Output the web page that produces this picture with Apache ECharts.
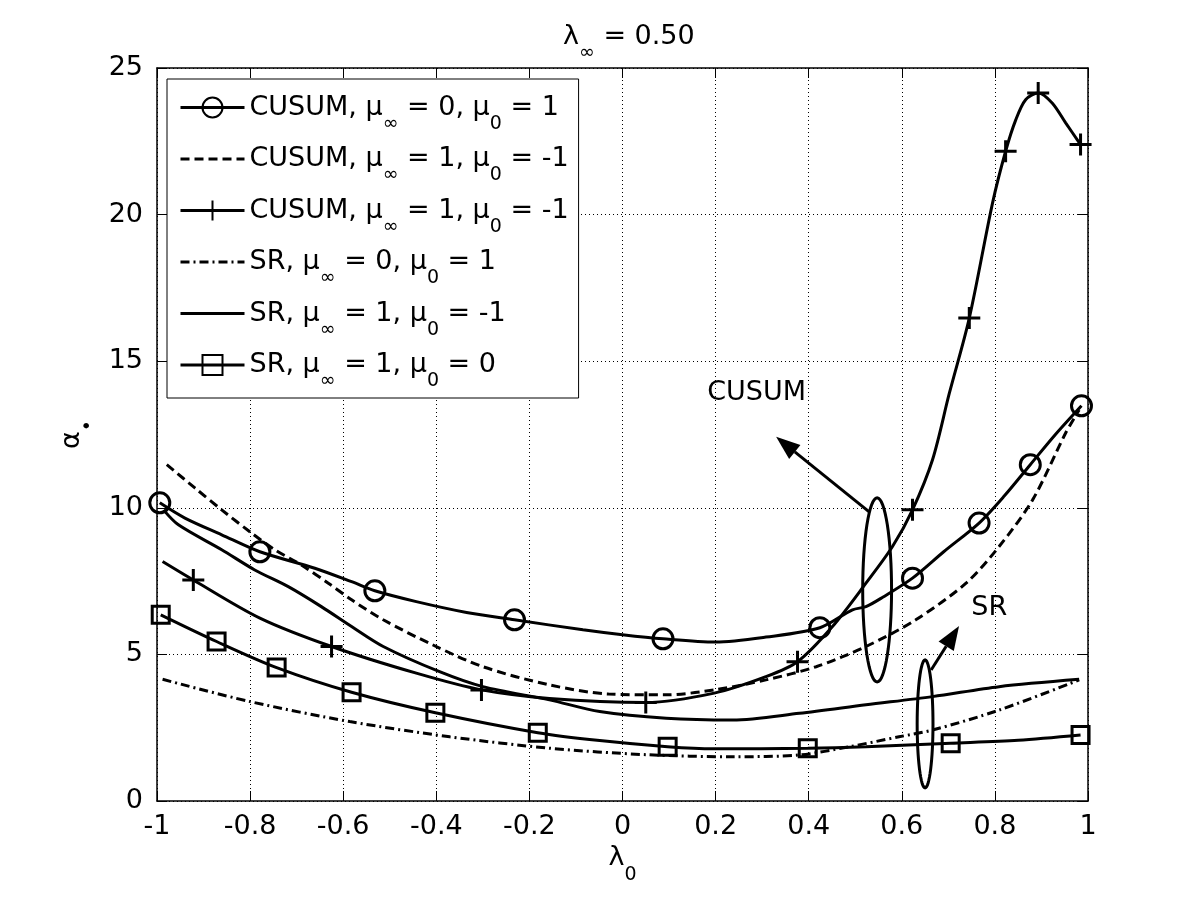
<!DOCTYPE html>
<html>
<head>
<meta charset="utf-8">
<script src="https://cdn.jsdelivr.net/npm/echarts@6/dist/echarts.min.js"></script>
<style>
html, body { margin: 0; padding: 0; background: #fff; }
#main { width: 1200px; height: 900px; }
</style>
</head>
<body>
<div id="main"></div>
<script>
// axis ranges
const xMin = -1, xMax = 1, xStep = 0.2;
const yMin = 0, yMax = 25, yStep = 5;

// CUSUM, mu_inf = 0, mu_0 = 1 (circles)
const cusum01X = [-0.994, -0.94, -0.861, -0.779, -0.661, -0.582, -0.532, -0.443, -0.335, -0.232, -0.085, 0.0, 0.087, 0.2, 0.308, 0.424, 0.494, 0.523, 0.559, 0.623, 0.69, 0.766, 0.82, 0.876, 0.93, 0.986];
const cusum01Y = [10.17, 9.65, 9.08, 8.5, 7.94, 7.48, 7.17, 6.8, 6.43, 6.18, 5.84, 5.67, 5.53, 5.42, 5.59, 5.91, 6.52, 6.63, 6.95, 7.6, 8.5, 9.48, 10.4, 11.47, 12.5, 13.48];
const cusum01Marks = [0, 3, 6, 9, 12, 15, 19, 21, 23, 25];

// CUSUM, mu_inf = 1, mu_0 = -1 (dashed)
const cusum10dX = [-0.979, -0.918, -0.861, -0.797, -0.747, -0.69, -0.632, -0.582, -0.514, -0.407, -0.30, -0.157, -0.03, 0.094, 0.201, 0.308, 0.416, 0.523, 0.630, 0.738, 0.809, 0.881, 0.952, 0.981];
const cusum10dY = [11.47, 10.67, 9.93, 9.14, 8.57, 8.05, 7.43, 6.86, 6.18, 5.32, 4.58, 3.96, 3.65, 3.62, 3.8, 4.13, 4.58, 5.27, 6.18, 7.43, 8.68, 10.27, 12.55, 13.34];

// CUSUM, mu_inf = 1, mu_0 = -1 (plus)
const cusum10pX = [-0.988, -0.922, -0.779, -0.625, -0.443, -0.303, -0.157, 0.05, 0.197, 0.308, 0.376, 0.451, 0.523, 0.58, 0.623, 0.666, 0.702, 0.745, 0.795, 0.823, 0.845, 0.866, 0.893, 0.923, 0.952, 0.984];
const cusum10pY = [8.17, 7.54, 6.24, 5.27, 4.36, 3.79, 3.5, 3.36, 3.68, 4.24, 4.75, 5.95, 7.43, 8.68, 9.93, 11.64, 13.9, 16.47, 20.4, 22.16, 23.24, 23.92, 24.15, 23.81, 23.13, 22.39];
const cusum10pMarks = [1, 3, 5, 7, 10, 14, 17, 19, 22, 25];

// SR, mu_inf = 0, mu_0 = 1 (dash-dot)
const sr01X = [-0.988, -0.8, -0.586, -0.371, -0.157, 0.05, 0.237, 0.38, 0.487, 0.594, 0.666, 0.809, 0.981];
const sr01Y = [4.15, 3.39, 2.71, 2.19, 1.80, 1.58, 1.51, 1.57, 1.85, 2.19, 2.42, 3.1, 4.13];

// SR, mu_inf = 1, mu_0 = -1 (solid)
const sr1m1X = [-0.986, -0.954, -0.861, -0.79, -0.718, -0.647, -0.582, -0.514, -0.393, -0.30, -0.157, -0.049, 0.094, 0.237, 0.38, 0.523, 0.666, 0.809, 0.981];
const sr1m1Y = [9.93, 9.42, 8.57, 7.88, 7.31, 6.63, 5.95, 5.27, 4.41, 3.9, 3.45, 3.05, 2.82, 2.76, 2.99, 3.28, 3.56, 3.9, 4.15];

// SR, mu_inf = 1, mu_0 = 0 (squares)
const sr10X = [-0.992, -0.872, -0.743, -0.582, -0.402, -0.182, -0.049, 0.097, 0.197, 0.398, 0.523, 0.705, 0.85, 0.984];
const sr10Y = [6.35, 5.44, 4.55, 3.71, 3.01, 2.33, 2.06, 1.85, 1.78, 1.80, 1.85, 1.97, 2.07, 2.25];
const sr10Marks = [0, 1, 2, 3, 4, 5, 7, 9, 11, 13];

const seriesNames = ['c01', 'c10d', 'c10p', 's01', 's1m1', 's10'];
const legendLabels = [
  '{n|CUSUM, μ}{s|∞}{n| = 0, μ}{s|0}{n| = 1}',
  '{n|CUSUM, μ}{s|∞}{n| = 1, μ}{s|0}{n| = -1}',
  '{n|CUSUM, μ}{s|∞}{n| = 1, μ}{s|0}{n| = -1}',
  '{n|SR, μ}{s|∞}{n| = 0, μ}{s|0}{n| = 1}',
  '{n|SR, μ}{s|∞}{n| = 1, μ}{s|0}{n| = -1}',
  '{n|SR, μ}{s|∞}{n| = 1, μ}{s|0}{n| = 0}'
];

const FONT = 'DejaVu Sans';
// main text centred in a 52px line, subscript pushed to the bottom of it
const richSub = {
  n: { fontFamily: FONT, fontSize: 27, color: '#000', lineHeight: 52, verticalAlign: 'middle' },
  s: { fontFamily: FONT, fontSize: 19, color: '#000', lineHeight: 18, verticalAlign: 'bottom' }
};

const plusPath = 'path://M0,-10L0,10M-10,0L10,0';

function toData(xs, ys, marks) {
  return xs.map((x, i) => marks.indexOf(i) >= 0
    ? { value: [x, ys[i]] }
    : { value: [x, ys[i]], symbol: 'none' });
}

function mkSeries(name, xs, ys, marks, symbol, size, dash) {
  return {
    name: name,
    type: 'line',
    data: toData(xs, ys, marks || []),
    symbol: symbol || 'none',
    symbolSize: size || 1,
    symbolKeepAspect: true,
    smooth: 0.3,
    lineStyle: { color: '#000', width: 3, type: dash || 'solid' },
    itemStyle: { color: 'transparent', borderColor: symbol ? '#000' : 'transparent', borderWidth: symbol ? 3 : 0 },
    emphasis: { disabled: true },
    animation: false,
    z: 3
  };
}

const chart = echarts.init(document.getElementById('main'));

const axisCommon = {
  type: 'value',
  axisLine: { show: true, onZero: false, lineStyle: { color: '#000', width: 1.5 } },
  axisTick: { show: true, inside: true, length: 10, lineStyle: { color: '#000', width: 1 } }
};

const option = {
  backgroundColor: '#fff',
  animation: false,
  title: {
    text: '{n|λ}{s|∞}{n| = 0.50}',
    left: 563,
    top: 11,
    padding: 0,
    textStyle: { fontFamily: FONT, fontSize: 27, fontWeight: 'normal', color: '#000', rich: richSub }
  },
  grid: { left: 157, top: 68, width: 931, height: 733 },
  xAxis: [
    Object.assign({}, axisCommon, {
      min: xMin, max: xMax, interval: xStep, position: 'bottom',
      axisLabel: { fontFamily: FONT, fontSize: 27, color: '#000', margin: 12 },
      splitLine: { show: true, lineStyle: { color: '#000', type: [1, 3], width: 1 } },
      name: '{n|λ}{s|0}', nameLocation: 'middle', nameGap: 31,
      nameTextStyle: { fontFamily: FONT, fontSize: 27, color: '#000', rich: richSub }
    }),
    Object.assign({}, axisCommon, {
      min: xMin, max: xMax, interval: xStep, position: 'top',
      axisLabel: { show: false }, splitLine: { show: false }
    })
  ],
  yAxis: [
    Object.assign({}, axisCommon, {
      min: yMin, max: yMax, interval: yStep, position: 'left',
      axisLabel: { fontFamily: FONT, fontSize: 27, color: '#000', margin: 14 },
      splitLine: { show: true, lineStyle: { color: '#000', type: [1, 3], width: 1 } },
      name: '{n|α}{s|•}', nameLocation: 'middle', nameGap: 58, nameRotate: 90,
      nameTextStyle: { fontFamily: FONT, fontSize: 27, color: '#000', rich: richSub }
    }),
    Object.assign({}, axisCommon, {
      min: yMin, max: yMax, interval: yStep, position: 'right',
      axisLabel: { show: false }, splitLine: { show: false }
    })
  ],
  legend: {
    orient: 'vertical',
    left: 167,
    top: 79,
    padding: [15, 10, 7, 12],
    itemGap: 12,
    itemWidth: 64,
    itemHeight: 25,
    backgroundColor: '#fff',
    borderColor: '#000',
    borderWidth: 1,
    selectedMode: false,
    data: seriesNames,
    formatter: n => legendLabels[seriesNames.indexOf(n)],
    lineStyle: { width: 3 },
    textStyle: { fontFamily: FONT, fontSize: 27, color: '#000', rich: richSub }
  },
  series: [
    mkSeries('c01', cusum01X, cusum01Y, cusum01Marks, 'circle', 20),
    mkSeries('c10d', cusum10dX, cusum10dY, null, null, null, [9, 5]),
    mkSeries('c10p', cusum10pX, cusum10pY, cusum10pMarks, plusPath, 22),
    mkSeries('s01', sr01X, sr01Y, null, null, null, [9, 4, 2, 4]),
    mkSeries('s1m1', sr1m1X, sr1m1Y),
    mkSeries('s10', sr10X, sr10Y, sr10Marks, 'rect', 17)
  ]
};

chart.setOption(option);

// annotations (ellipses, arrows and labels placed in data coordinates)
function px(x, y) { return chart.convertToPixel({ gridIndex: 0 }, [x, y]); }

function ellipse(cx, cy, rx, ry) {
  const c = px(cx, cy);
  const e = px(cx + rx, cy + ry);
  const a = Math.abs(e[0] - c[0]), b = Math.abs(e[1] - c[1]);
  const pts = [];
  for (let i = 0; i < 64; i++) {
    const t = i / 64 * Math.PI * 2;
    pts.push([c[0] + a * Math.cos(t), c[1] + b * Math.sin(t)]);
  }
  return { type: 'polygon', shape: { points: pts }, style: { fill: 'none', stroke: '#000', lineWidth: 3 }, z: 10 };
}

function arrow(x1, y1, x2, y2) {
  const p1 = px(x1, y1), p2 = px(x2, y2);
  const dx = p2[0] - p1[0], dy = p2[1] - p1[1];
  const len = Math.sqrt(dx * dx + dy * dy);
  const ux = dx / len, uy = dy / len;
  const hl = 24, hw = 9;
  const bx = p2[0] - ux * hl, by = p2[1] - uy * hl;
  return [
    { type: 'line', shape: { x1: p1[0], y1: p1[1], x2: bx, y2: by }, style: { stroke: '#000', lineWidth: 3 }, z: 10 },
    { type: 'polygon', shape: { points: [[p2[0], p2[1]], [bx - uy * hw, by + ux * hw], [bx + uy * hw, by - ux * hw]] }, style: { fill: '#000' }, z: 10 }
  ];
}

function label(x, y, txt) {
  const p = px(x, y);
  return { type: 'text', x: p[0], y: p[1], style: { text: txt, font: '27px ' + FONT, fill: '#000', align: 'center', verticalAlign: 'middle' }, z: 10 };
}

chart.setOption({
  graphic: [
    ellipse(0.547, 7.2, 0.031, 3.14),
    ellipse(0.650, 2.63, 0.017, 2.18),
    ...arrow(0.530, 9.86, 0.330, 12.42),
    ...arrow(0.663, 4.47, 0.723, 5.97),
    label(0.288, 13.9, 'CUSUM'),
    label(0.788, 6.59, 'SR')
  ]
});
</script>
</body>
</html>
